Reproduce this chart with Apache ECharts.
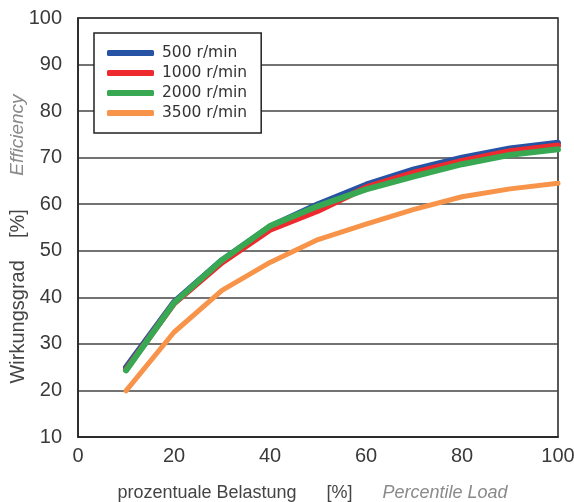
<!DOCTYPE html>
<html>
<head>
<meta charset="utf-8">
<script src="https://cdn.jsdelivr.net/npm/echarts@6/dist/echarts.min.js"></script>
<style>
html,body{margin:0;padding:0;background:#fff;}
#chart{width:574px;height:502px;}
</style>
</head>
<body>
<div id="chart"></div>
<script>
var loads = [10, 20, 30, 40, 50, 60, 70, 80, 90, 100];
var rpm500 = [25.0, 39.0, 48.0, 55.2, 60.0, 64.2, 67.5, 70.0, 72.0, 73.2];
var rpm1000 = [24.5, 38.7, 47.5, 54.5, 58.6, 63.6, 66.8, 69.3, 71.4, 72.6];
var rpm2000 = [24.3, 38.8, 48.0, 55.3, 59.6, 63.2, 66.0, 68.6, 70.6, 71.8];
var rpm3500 = [19.9, 32.5, 41.5, 47.5, 52.4, 55.7, 58.9, 61.6, 63.3, 64.5];
var names = ['500 r/min', '1000 r/min', '2000 r/min', '3500 r/min'];
var colors = ['#2653a3', '#ee2a2e', '#38a853', '#f7944a'];

function pairs(vals){
    var out = [];
    for (var i = 0; i < loads.length; i++) {
        out.push([loads[i], vals[i]]);
    }
    return out;
}

var seriesData = [rpm500, rpm1000, rpm2000, rpm3500];
var series = [];
for (var i = 0; i < seriesData.length; i++) {
    series.push({
        name: names[i],
        type: 'line',
        data: pairs(seriesData[i]),
        symbol: 'none',
        z: 10 + i,
        lineStyle: {color: colors[i], width: i == 3 ? 5 : 6, cap: 'round', join: 'round'},
        itemStyle: {color: colors[i]}
    });
}

var font = '"Liberation Sans", Arial, sans-serif';
var option = {
    animation: false,
    backgroundColor: '#fff',
    grid: {
        left: 78, top: 18, right: 16, bottom: 65,
        outerBoundsMode: 'none',
        containLabel: false,
        show: true, borderColor: '#222', borderWidth: 1.5
    },
    legend: {
        orient: 'vertical',
        left: 94, top: 33,
        padding: [12, 14, 12, 13],
        borderColor: '#222', borderWidth: 1.5,
        backgroundColor: '#fff',
        itemWidth: 47, itemHeight: 6, itemGap: 4,
        icon: 'roundRect',
        textStyle: {fontFamily: 'DejaVu Sans', fontSize: 15.5, color: '#333', lineHeight: 15, padding: [0, 0, 0, 3]},
        data: names
    },
    xAxis: {
        type: 'value', min: 0, max: 100, interval: 20,
        axisLine: {show: true, lineStyle: {color: '#222', width: 1.5}},
        axisTick: {show: false},
        splitLine: {show: false},
        axisLabel: {fontFamily: font, fontSize: 20, color: '#3a3a3a', margin: 9},
        name: '{a|prozentuale Belastung      [%]      }{b|Percentile Load}',
        nameLocation: 'middle', nameGap: 47,
        nameMoveOverlap: false,
        nameTextStyle: {
            rich: {
                a: {fontFamily: font, fontSize: 18, color: '#444'},
                b: {fontFamily: font, fontStyle: 'italic', fontSize: 18, color: '#8a8a8a', padding: [0, 11, 0, 0]}
            }
        }
    },
    yAxis: {
        type: 'value', min: 10, max: 100, interval: 10,
        axisLine: {show: true, lineStyle: {color: '#222', width: 1.5}},
        axisTick: {show: false},
        splitLine: {show: true, lineStyle: {color: '#444', width: 1.5}},
        axisLabel: {fontFamily: font, fontSize: 20, color: '#3a3a3a', margin: 16},
        name: '{a|Wirkungsgrad    [%]      }{b|Efficiency}',
        nameLocation: 'middle', nameGap: 50, nameRotate: 90,
        nameMoveOverlap: false,
        nameTextStyle: {
            rich: {
                a: {fontFamily: font, fontSize: 20, color: '#444'},
                b: {fontFamily: font, fontStyle: 'italic', fontSize: 19, color: '#8a8a8a', padding: [0, 23, 0, 0]}
            }
        }
    },
    series: series
};

var chart = echarts.init(document.getElementById('chart'), null, {renderer: 'canvas'});
chart.setOption(option);
</script>
</body>
</html>
